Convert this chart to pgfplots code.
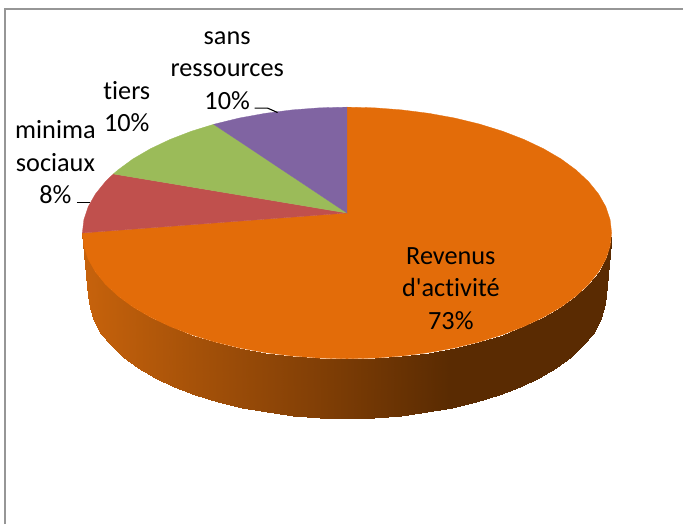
\documentclass[border=0pt]{standalone}
\usepackage{pgfplots}
\pgfplotsset{compat=1.18}
\usepackage{fontspec}
\setmainfont{Carlito}[Ligatures={NoCommon,TeXOff}]
\definecolor{cOrange}{RGB}{227,108,9}
\definecolor{cRed}{RGB}{192,80,77}
\definecolor{cGreen}{RGB}{155,187,89}
\definecolor{cPurple}{RGB}{128,100,162}
\definecolor{cFrame}{RGB}{150,150,150}
\tikzset{lab/.style={font=\fontsize{26.3}{32.5}\selectfont, align=center, text=black, inner sep=0pt}}
\begin{document}
\begin{tikzpicture}
\begin{axis}[
  scale only axis, width=684pt, height=525pt,
  xmin=0, xmax=684, ymin=0, ymax=525, y dir=reverse,
  hide axis, clip=false,
  colormap={sidecm}{[10pt] rgb255(0pt)=(200,99,12); rgb255(370pt)=(90,43,2); rgb255(540pt)=(90,43,2)},
  point meta min=80, point meta max=620,
]
\path (axis cs:0,0) rectangle (axis cs:684,525);
% frame
\addplot[cFrame, line width=2pt, forget plot] coordinates {(5.5,525) (5.5,9) (684,9)};
% side wall
\addplot[patch, patch type=rectangle, shader=interp, point meta=x, forget plot, table/row sep=\\,
  patch table={0 1 3 2\\2 3 5 4\\4 5 7 6\\6 7 9 8\\8 9 11 10\\10 11 13 12\\12 13 15 14\\14 15 17 16\\16 17 19 18\\18 19 21 20\\20 21 23 22\\22 23 25 24\\24 25 27 26\\26 27 29 28\\28 29 31 30\\30 31 33 32\\32 33 35 34\\34 35 37 36\\36 37 39 38\\38 39 41 40\\40 41 43 42\\42 43 45 44\\44 45 47 46\\46 47 49 48\\48 49 51 50\\50 51 53 52\\52 53 55 54\\54 55 57 56\\56 57 59 58\\58 59 61 60\\}]
 table[row sep=\\] {x y\\
82.5 233.3\\88.5 296.0\\
84.0 246.5\\89.9 308.9\\
88.3 259.5\\94.2 321.6\\
95.5 272.2\\101.2 334.0\\
105.4 284.5\\110.9 346.0\\
118.0 296.3\\123.2 357.5\\
133.1 307.4\\138.0 368.3\\
150.6 317.6\\155.0 378.3\\
170.2 326.9\\174.2 387.4\\
191.7 335.2\\195.3 395.5\\
215.0 342.4\\218.0 402.5\\
239.7 348.4\\242.2 408.4\\
265.6 353.1\\267.5 413.0\\
292.4 356.5\\293.7 416.3\\
319.8 358.6\\320.4 418.3\\
347.5 359.3\\347.5 419.0\\
375.2 358.6\\374.6 418.3\\
402.6 356.5\\401.3 416.3\\
429.4 353.1\\427.5 413.0\\
455.3 348.4\\452.8 408.4\\
480.0 342.4\\477.0 402.5\\
503.3 335.2\\499.8 395.5\\
524.8 326.9\\520.8 387.4\\
544.4 317.6\\540.0 378.3\\
561.9 307.4\\557.0 368.3\\
577.0 296.3\\571.8 357.5\\
589.6 284.5\\584.1 346.0\\
599.5 272.2\\593.8 334.0\\
606.7 259.5\\600.8 321.6\\
611.0 246.5\\605.1 308.9\\
612.5 233.3\\606.5 296.0\\
};
% Revenus d'activite 73%
\addplot[fill=cOrange, draw=cOrange, line width=0.3pt, forget plot] coordinates {
(347.5,213.3) (82.5,233.3) (84.0,246.5) (88.3,259.5) (95.5,272.2) (105.4,284.5) (118.0,296.3) (133.1,307.4) (150.6,317.6) (170.2,326.9) (191.7,335.2) (215.0,342.4) (239.7,348.4) (265.6,353.1) (292.4,356.5) (319.8,358.6) (347.5,359.3) (375.2,358.6) (402.6,356.5) (429.4,353.1) (455.3,348.4) (480.0,342.4) (503.3,335.2) (524.8,326.9) (544.4,317.6) (561.9,307.4) (577.0,296.3) (589.6,284.5) (599.5,272.2) (606.7,259.5) (611.0,246.5) (612.5,233.3) (611.0,220.1) (606.7,207.1) (599.5,194.4) (589.6,182.1) (577.0,170.3) (561.9,159.2) (544.4,149.0) (524.8,139.7) (503.3,131.4) (480.0,124.2) (455.3,118.2) (429.4,113.5) (402.6,110.1) (375.2,108.0) (347.5,107.3)} -- cycle;
% minima sociaux 8%
\addplot[fill=cRed, draw=cRed, line width=0.3pt, forget plot] coordinates {
(347.5,213.3) (113.5,174.2) (105.4,182.1) (95.5,194.4) (88.3,207.1) (84.0,220.1) (82.5,233.3)} -- cycle;
% tiers 10%
\addplot[fill=cGreen, draw=cGreen, line width=0.3pt, forget plot] coordinates {
(347.5,213.3) (214,124.5) (191.7,131.4) (170.2,139.7) (150.6,149.0) (133.1,159.2) (118.0,170.3) (113.5,174.2)} -- cycle;
% sans ressources 10%
\addplot[fill=cPurple, draw=cPurple, line width=0.3pt, forget plot] coordinates {
(347.5,213.3) (347.5,107.3) (319.8,108.0) (292.4,110.1) (265.6,113.5) (239.7,118.2) (214,124.5)} -- cycle;
% leaders
\addplot[black, line width=1.1pt, forget plot] coordinates {(255,108.3) (268,108.3) (278,112.7)};
\addplot[black, line width=1.1pt, forget plot] coordinates {(77,202.7) (90,202.7)};
% labels
\node[lab] at (axis cs:227.5,70.5) {sans\\ressources\\10\%};
\node[lab] at (axis cs:127,106.5) {tiers\\10\%};
\node[lab] at (axis cs:55.5,162.5) {minima\\sociaux\\8\%};
\node[lab] at (axis cs:451.5,289) {Revenus\\d'activité\\73\%};
\end{axis}
\end{tikzpicture}
\end{document}
